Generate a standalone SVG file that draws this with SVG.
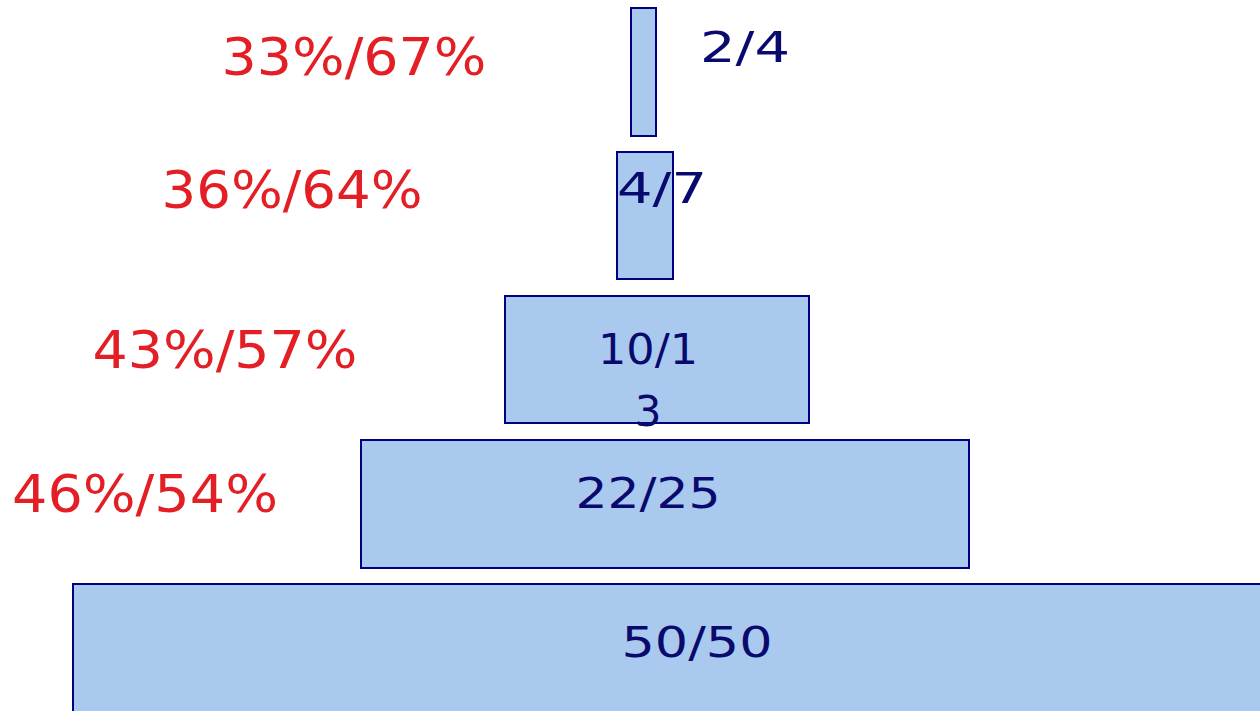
<svg xmlns="http://www.w3.org/2000/svg" width="1260" height="711" viewBox="0 0 1260 711">
<style>
.box{fill:#A9CAEE;stroke:#000080;stroke-width:2}
.num{font-family:"DejaVu Sans","Liberation Sans",sans-serif;font-size:42px;fill:#0A0A6E;text-anchor:middle}
.pct{font-family:"DejaVu Sans","Liberation Sans",sans-serif;font-size:51px;fill:#E31E24;text-anchor:middle}
</style>
<rect width="1260" height="711" fill="#FFFFFF"/>
<g id="level1">
<rect class="box" x="631" y="8" width="25" height="128"/>
<text class="num" x="745" y="62" textLength="90" lengthAdjust="spacingAndGlyphs">2/4</text>
</g>
<g id="level2">
<rect class="box" x="617" y="152" width="56" height="127"/>
<text class="num" x="662" y="203" textLength="90" lengthAdjust="spacingAndGlyphs">4/7</text>
</g>
<g id="level3">
<rect class="box" x="505" y="296" width="304" height="127"/>
<text class="num" x="648" y="364" textLength="100" lengthAdjust="spacingAndGlyphs">10/1</text>
<text class="num" x="648" y="426">3</text>
</g>
<g id="level4">
<rect class="box" x="361" y="440" width="608" height="128"/>
<text class="num" x="648" y="508" textLength="145" lengthAdjust="spacingAndGlyphs">22/25</text>
</g>
<g id="level5">
<rect class="box" x="73" y="584" width="1200" height="140"/>
<text class="num" x="697" y="657" textLength="151" lengthAdjust="spacingAndGlyphs">50/50</text>
</g>
<g id="labels">
<text class="pct" x="354" y="75" textLength="265" lengthAdjust="spacingAndGlyphs">33%/67%</text>
<text class="pct" x="292" y="208" textLength="261" lengthAdjust="spacingAndGlyphs">36%/64%</text>
<text class="pct" x="225" y="368" textLength="265" lengthAdjust="spacingAndGlyphs">43%/57%</text>
<text class="pct" x="145" y="512" textLength="266" lengthAdjust="spacingAndGlyphs">46%/54%</text>
</g>
</svg>
